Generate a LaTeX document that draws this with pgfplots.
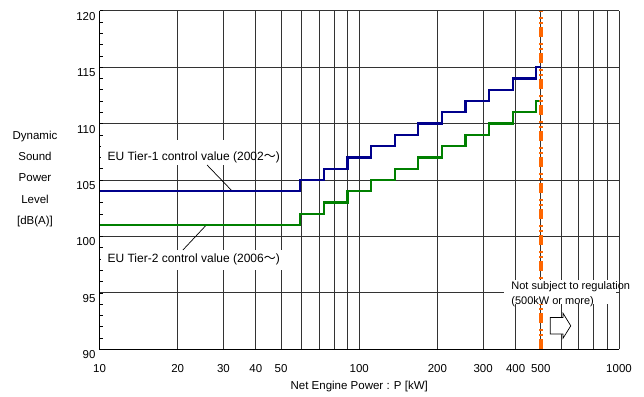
\documentclass[border=0pt]{standalone}
\usepackage{fontspec}
\setmainfont{Liberation Sans}
\newfontfamily\cjk{Noto Sans CJK JP}
\usepackage{pgfplots}
\pgfplotsset{compat=1.18}
\definecolor{tierone}{RGB}{0,0,140}
\definecolor{tiertwo}{RGB}{0,128,0}
\definecolor{limitorange}{RGB}{255,102,0}
\begin{document}
\fontsize{11.5}{13.8}\selectfont
\begin{tikzpicture}
\path[use as bounding box] (0pt,0pt) rectangle (644pt,396pt);
\node[align=center, font=\fontsize{11.5}{21.3}\selectfont] at (35pt,217pt) {Dynamic\\Sound\\Power\\Level\\{[dB(A)]}};
\begin{axis}[
  at={(99.5pt,46.7pt)}, anchor=south west,
  scale only axis, width=519.5pt, height=338.6pt,
  xmode=log, xmin=10, xmax=1000, ymin=90, ymax=120,
  clip=false,
  xtick={10,20,30,40,50,100,200,300,400,500,1000},
  xticklabels={10,20,30,40,50,100,200,300,400,500,1000},
  minor xtick={60,70,80,90,600,700,800,900},
  ytick={90,95,100,105,110,115,120},
  minor y tick num=4,
  xmajorgrids, xminorgrids, ymajorgrids,
  major grid style={black!80, line width=0.8pt},
  minor grid style={black!80, line width=0.8pt},
  xtick style={draw=none},
  ytick pos=left, tick align=inside,
  major tick length=3pt, minor tick length=3pt,
  ytick style={black, line width=0.6pt},
  axis line style={draw=none},
  /pgf/number format/assume math mode=true,
  ticklabel style={font=\fontsize{11.5}{13}\selectfont},
  xticklabel style={yshift=-11pt},
  yticklabel style={yshift=-5.5pt},
  xlabel={Net Engine Power : P [kW]},
  xlabel style={at={(axis description cs:0.5,0)}, anchor=center, yshift=-37.7pt, font=\fontsize{11.5}{13}\selectfont},
]
% white boxes behind labels
\fill[white] (axis cs:10.09,108.55) rectangle (axis cs:34.9,106.33);
\fill[white] (axis cs:10.09,98.80) rectangle (axis cs:54.9,97.03);
\node[anchor=west, inner sep=0pt, font=\fontsize{12}{14}\selectfont] at (axis cs:10.72,107.04) {EU Tier-1 control value (2002{\cjk ～})};
\node[anchor=west, inner sep=0pt, font=\fontsize{12}{14}\selectfont] at (axis cs:10.72,97.97) {EU Tier-2 control value (2006{\cjk ～})};
\draw[black, line width=0.7pt] (axis cs:25.94,106.33) -- (axis cs:32.38,104.03);
\draw[black, line width=0.7pt] (axis cs:20.95,98.80) -- (axis cs:25.94,101.08);

\addplot[tierone, line width=2.2pt, line join=miter] coordinates {
(10,104) (59.3,104) (59.3,105) (73.1,105) (73.1,106) (90.1,106) (90.1,107)
(111.0,107) (111.0,108) (136.9,108) (136.9,109) (168.8,109) (168.8,110)
(208.1,110) (208.1,111) (256.6,111) (256.6,112) (316.2,112) (316.2,113)
(389.9,113) (389.9,114) (480.7,114) (480.7,115) (500,115)};
\addplot[tiertwo, line width=2.2pt, line join=miter] coordinates {
(10,101) (59.3,101) (59.3,102) (73.1,102) (73.1,103) (90.1,103) (90.1,104)
(111.0,104) (111.0,105) (136.9,105) (136.9,106) (168.8,106) (168.8,107)
(208.1,107) (208.1,108) (256.6,108) (256.6,109) (316.2,109) (316.2,110)
(389.9,110) (389.9,111) (480.7,111) (480.7,112) (500,112)};
\addplot[limitorange, line width=3.5pt, dash pattern=on 10pt off 3pt on 2pt off 3pt on 2pt off 6pt] coordinates {(500,90) (500,120)};

\fill[white] (axis cs:361.4,96.15) rectangle (axis cs:977,94.0);
\node[anchor=west, inner sep=0pt, font=\fontsize{11}{13}\selectfont] at (axis cs:384.6,95.52) {Not subject to regulation};
\node[anchor=west, inner sep=0pt, font=\fontsize{11}{13}\selectfont] at (axis cs:384.6,94.19) {(500kW or more)};
\draw[black, fill=white, line width=0.7pt] (axis cs:543.9,92.82) -- (axis cs:609.0,92.82) -- (axis cs:609.0,93.19) -- (axis cs:652.1,92.08) -- (axis cs:609.0,90.98) -- (axis cs:609.0,91.35) -- (axis cs:543.9,91.35) -- cycle;

\draw[black, line width=0.9pt] (rel axis cs:0,1) -- (rel axis cs:0,0) -- (rel axis cs:1,0);
\end{axis}
\end{tikzpicture}
\end{document}
